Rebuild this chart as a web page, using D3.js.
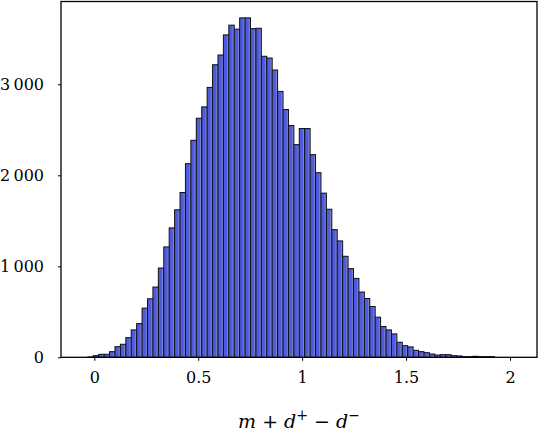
<!DOCTYPE html>
<html>
<head>
<meta charset="utf-8">
<script src="https://cdn.jsdelivr.net/npm/d3@7/dist/d3.min.js"></script>
<style>
  html, body { margin: 0; padding: 0; background: #fff; }
  svg { display: block; }
  text { font-family: "DejaVu Serif", serif; }
</style>
</head>
<body>
<div id="chart"></div>
<script>
// ---- data ----
const binStart = -0.0309;   // left edge of first bin
const binWidth = 0.02608;   // bin width
const counts = [
  4, 18, 33, 33, 62, 117, 143, 216, 301, 370, 540, 643, 772, 981, 1213, 1422, 1621, 1811,
  2128, 2385, 2627, 2752, 2966, 3215, 3322, 3543, 3650, 3606, 3730, 3730, 3612, 3616,
  3308, 3289, 3157, 2922, 2723, 2547, 2337, 2514, 2514, 2227, 2029, 1804, 1627, 1403,
  1279, 1110, 974, 867, 717, 646, 558, 441, 338, 301, 257, 165, 128, 114, 77, 62, 51,
  36, 25, 29, 29, 18, 15, 7, 7, 11, 7, 7, 7
];
const xTicks = [0, 0.5, 1, 1.5, 2];
const xTickLabels = ["0", "0.5", "1", "1.5", "2"];
const yTicks = [0, 1000, 2000, 3000];
const yTickLabels = ["0", "1\u2009000", "2\u2009000", "3\u2009000"];

const bins = counts.map((c, i) => ({
  x0: binStart + i * binWidth,
  x1: binStart + (i + 1) * binWidth,
  count: c
}));

// ---- layout ----
const W = 538, H = 432;
const mLeft = 61, mRight = 537, mTop = 1.5, mBottom = 357.3;

const x = d3.scaleLinear().domain([-0.1602, 2.1299]).range([mLeft, mRight]);
const y = d3.scaleLinear().domain([0, 3910]).range([mBottom, mTop]);

const svg = d3.select("#chart").append("svg")
  .attr("width", W).attr("height", H);

// bars
const bars = svg.append("g");
bars.selectAll("rect")
  .data(bins)
  .join("rect")
  .attr("x", d => x(d.x0))
  .attr("width", d => x(d.x1) - x(d.x0))
  .attr("y", d => y(d.count))
  .attr("height", d => y(0) - y(d.count))
  .attr("fill", "#4e5ae2")
  .attr("stroke", "#111")
  .attr("stroke-width", 1);
// light grey highlight along right edges (as in the reference rendering)
bars.selectAll("line")
  .data(bins.filter(d => d.count > 0))
  .join("line")
  .attr("x1", d => x(d.x1) - 1.2).attr("x2", d => x(d.x1) - 1.2)
  .attr("y1", d => y(d.count) + 1).attr("y2", y(0))
  .attr("stroke", "#8a8fb8").attr("stroke-width", 0.8);

// x axis
const xAxis = d3.axisBottom(x)
  .tickValues(xTicks)
  .tickFormat((d, i) => xTickLabels[i])
  .tickSizeInner(3.5).tickSizeOuter(0).tickPadding(11);
const gx = svg.append("g").attr("transform", `translate(0,${mBottom})`).call(xAxis);
gx.select(".domain").remove();
gx.selectAll("line").attr("stroke", "#000");
gx.selectAll("text").attr("font-size", 16).attr("fill", "#000")
  .attr("font-family", "DejaVu Serif, serif");

// y axis
const yAxis = d3.axisLeft(y)
  .tickValues(yTicks)
  .tickFormat((d, i) => yTickLabels[i])
  .tickSizeInner(3).tickSizeOuter(0).tickPadding(14);
const gy = svg.append("g").attr("transform", `translate(${mLeft},0)`).call(yAxis);
gy.select(".domain").remove();
gy.selectAll("line").attr("stroke", "#000");
gy.selectAll("text").attr("font-size", 16).attr("fill", "#000")
  .attr("font-family", "DejaVu Serif, serif");

// frame
svg.append("rect")
  .attr("x", mLeft).attr("y", mTop)
  .attr("width", mRight - mLeft).attr("height", mBottom - mTop)
  .attr("fill", "none").attr("stroke", "#000").attr("stroke-width", 1.3);

// x label: m + d^+ − d^−
const lab = svg.append("text")
  .attr("x", (mLeft + mRight) / 2).attr("y", 428)
  .attr("text-anchor", "middle")
  .attr("font-size", 19).attr("fill", "#000");
lab.append("tspan").attr("font-style", "italic").text("m");
lab.append("tspan").text(" + ");
lab.append("tspan").attr("font-style", "italic").text("d");
lab.append("tspan").attr("font-size", 14).attr("dy", -8).text("+");
lab.append("tspan").attr("dy", 8).text(" \u2212 ");
lab.append("tspan").attr("font-style", "italic").text("d");
lab.append("tspan").attr("font-size", 14).attr("dy", -8).text("\u2212");
</script>
</body>
</html>
